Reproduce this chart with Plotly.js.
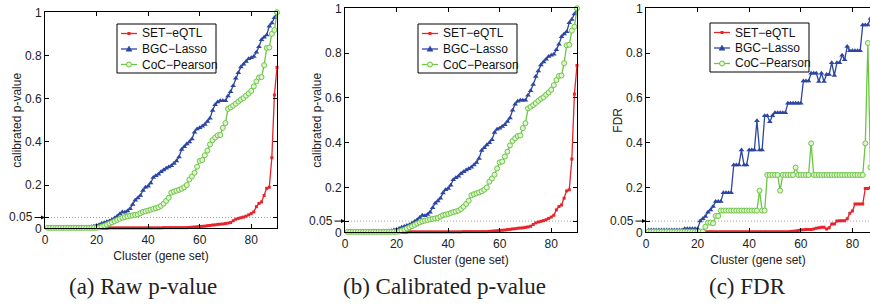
<!DOCTYPE html>
<html>
<head>
<meta charset="utf-8">
<script src="https://cdn.plot.ly/plotly-3.0.1.min.js"></script>
<style>html,body{margin:0;padding:0;background:#fff;}#chart{width:870px;height:305px;}</style>
</head>
<body>
<div id="chart"></div>
<script>
// ---------- data ----------
const seriesNames = ['SET\u2212eQTL', 'BGC\u2212Lasso', 'CoC\u2212Pearson'];
const panelCaptions = ['(a) Raw p-value', '(b) Calibrated p-value', '(c) FDR'];
const yTitles = ['calibrated p-value', 'calibrated p-value', 'FDR'];
const xTitle = 'Cluster (gene set)';
const xTickVals = [0, 20, 40, 60, 80];
const yTickVals = [0, 0.05, 0.2, 0.4, 0.6, 0.8, 1];
const yTickText = ['0', '', '0.2', '0.4', '0.6', '0.8', '1'];
const thresholdLabel = '0.05';
const threshold = 0.05;

// cluster index 1..90
const cluster = Array.from({length: 90}, (_, i) => i + 1);

// (a) raw p-value
const rawSET = [
 0,0,0,0,0,0,0,0,0,0, 0,0,0,0,0,0,0,0,0,0, 0,0,0,0,0.002,0.002,0.002,0.002,0.002,0.002,
 0.002,0.002,0.002,0.002,0.002,0.002,0.002,0.002,0.002,0.002, 0.002,0.002,0.002,0.002,0.002,0.003,0.003,0.003,0.003,0.003,
 0.003,0.003,0.003,0.003,0.003,0.004,0.005,0.006,0.007,0.008, 0.009,0.010,0.012,0.013,0.015,0.016,0.018,0.019,0.020,0.022,
 0.024,0.027,0.035,0.042,0.046,0.049,0.052,0.056,0.062,0.068, 0.076,0.100,0.115,0.122,0.152,0.185,0.190,0.327,0.617,0.745];
const rawBGC = [
 0.004,0.004,0.004,0.004,0.004,0.004,0.004,0.004,0.004,0.004, 0.005,0.005,0.005,0.005,0.005,0.005,0.005,0.007,0.010,0.013,
 0.017,0.022,0.026,0.030,0.034,0.040,0.048,0.056,0.066,0.076, 0.074,0.080,0.090,0.110,0.130,0.140,0.152,0.175,0.190,0.195,
 0.210,0.235,0.243,0.250,0.262,0.270,0.278,0.284,0.290,0.300, 0.312,0.330,0.365,0.378,0.390,0.400,0.413,0.445,0.460,0.465,
 0.472,0.480,0.495,0.510,0.545,0.572,0.585,0.590,0.590,0.590, 0.612,0.632,0.660,0.695,0.720,0.747,0.760,0.772,0.785,0.790,
 0.795,0.815,0.840,0.873,0.885,0.895,0.935,0.950,0.975,1.000];
const rawCoC = [
 0.002,0.002,0.002,0.002,0.002,0.002,0.002,0.002,0.002,0.002, 0.002,0.002,0.002,0.002,0.002,0.002,0.002,0.002,0.002,0.002,
 0.004,0.008,0.012,0.017,0.022,0.027,0.033,0.039,0.044,0.049, 0.052,0.055,0.058,0.060,0.062,0.064,0.070,0.076,0.079,0.082,
 0.086,0.090,0.093,0.097,0.104,0.114,0.127,0.141,0.165,0.170, 0.174,0.178,0.183,0.190,0.200,0.226,0.240,0.257,0.285,0.312,
 0.316,0.338,0.360,0.388,0.408,0.420,0.430,0.432,0.465,0.487, 0.553,0.560,0.568,0.577,0.587,0.596,0.603,0.614,0.624,0.636,
 0.657,0.680,0.698,0.700,0.755,0.835,0.837,0.900,0.918,1.000];

// (b) calibrated p-value
const calSET = rawSET.slice();
const calBGC = rawBGC.slice();
const calCoC = rawCoC.slice();

// (c) FDR
const fdrSET = [
 0,0,0,0,0,0,0,0,0,0, 0,0,0,0,0,0,0,0,0,0, 0,0,0.002,0.002,0.002,0.002,0.002,0.002,0.002,0.002,
 0.002,0.002,0.002,0.002,0.002,0.002,0.002,0.002,0.002,0.002, 0.002,0.002,0.002,0.002,0.002,0.002,0.002,0.002,0.002,0.002,
 0.002,0.002,0.002,0.002,0.002,0.004,0.005,0.006,0.008,0.010, 0.011,0.012,0.012,0.013,0.015,0.018,0.020,0.022,0.022,0.015,
 0.020,0.037,0.037,0.050,0.052,0.052,0.052,0.060,0.085,0.095, 0.126,0.126,0.126,0.126,0.196,0.196,0.200,0.200,0.200,0.200];
const fdrBGC = [
 0.010,0.010,0.010,0.010,0.010,0.010,0.010,0.010,0.010,0.010, 0.010,0.010,0.010,0.010,0.016,0.016,0.016,0.016,0.016,0.016,
 0.050,0.060,0.070,0.090,0.100,0.115,0.137,0.137,0.137,0.177, 0.177,0.177,0.177,0.300,0.300,0.300,0.367,0.300,0.300,0.367,
 0.367,0.367,0.498,0.367,0.367,0.520,0.520,0.494,0.520,0.534, 0.534,0.534,0.534,0.534,0.576,0.576,0.576,0.576,0.576,0.576,
 0.675,0.675,0.675,0.710,0.710,0.710,0.673,0.710,0.673,0.705, 0.705,0.757,0.700,0.757,0.757,0.790,0.770,0.830,0.810,0.810,
 0.810,0.810,0.810,0.925,0.925,0.925,0.955,0.965,0.980,1.000];
const fdrCoC = [
 0.003,0.003,0.003,0.003,0.003,0.003,0.003,0.003,0.003,0.003, 0.003,0.003,0.003,0.003,0.003,0.003,0.003,0.003,0.003,0.003,
 0.003,0.003,0.025,0.043,0.043,0.040,0.073,0.073,0.097,0.097, 0.097,0.097,0.097,0.097,0.097,0.097,0.097,0.097,0.097,0.097,
 0.097,0.097,0.097,0.186,0.097,0.097,0.256,0.256,0.256,0.256, 0.256,0.186,0.256,0.256,0.256,0.256,0.256,0.289,0.256,0.256,
 0.256,0.256,0.256,0.397,0.256,0.256,0.256,0.256,0.256,0.256, 0.256,0.256,0.256,0.256,0.256,0.256,0.256,0.256,0.256,0.256,
 0.256,0.256,0.256,0.256,0.397,0.845,0.290,0.300,0.300,0.300];

// ---------- styles ----------
const RED = '#e8232b', BLUE = '#2c46a3', GREEN = '#6cc644', GREEN_FILL = 'rgb(225,244,210)';
const FONT = 'Liberation Sans, Arial, Helvetica, sans-serif';
const SERIF = 'Liberation Serif, Times New Roman, serif';

function mkTraces(set, bgc, coc, xa, ya, clip) {
  return [
    {x: cluster, y: set, xaxis: xa, yaxis: ya, name: seriesNames[0], mode: 'lines+markers',
     line: {color: RED, width: 1.3}, marker: {symbol: 'square', size: 3, color: RED}, cliponaxis: clip},
    {x: cluster, y: bgc, xaxis: xa, yaxis: ya, name: seriesNames[1], mode: 'lines+markers',
     line: {color: BLUE, width: 1.3}, marker: {symbol: 'triangle-up', size: 5, color: BLUE}, cliponaxis: clip},
    {x: cluster, y: coc, xaxis: xa, yaxis: ya, name: seriesNames[2], mode: 'lines+markers',
     line: {color: GREEN, width: 1.3},
     marker: {symbol: 'circle', size: 5, color: GREEN_FILL, line: {color: GREEN, width: 1}}, cliponaxis: clip}
  ];
}

const traces = [].concat(
  mkTraces(rawSET, rawBGC, rawCoC, 'x', 'y', false),
  mkTraces(calSET, calBGC, calCoC, 'x2', 'y2', false),
  mkTraces(fdrSET, fdrBGC, fdrCoC, 'x3', 'y3', true)   // panel c is cut at the page edge
);

const W = 870, H = 305;
const px = v => v / W, py = v => 1 - v / H;

function xax(l, r, anchor, xrange) {
  return {domain: [px(l), px(r)], anchor: anchor, range: xrange, tickvals: xTickVals,
    ticks: 'inside', ticklen: 4, tickcolor: '#000', showline: true, linecolor: '#000', linewidth: 1,
    mirror: 'ticks', showgrid: false, zeroline: false,
    tickfont: {family: FONT, size: 12, color: '#222'},
    title: {text: xTitle, font: {family: FONT, size: 12, color: '#222'}, standoff: 5}};
}
function yax(t, b, anchor, title, mirror) {
  return {domain: [py(b), py(t)], anchor: anchor, range: [0, 1], tickvals: yTickVals, ticktext: yTickText,
    ticks: 'inside', ticklen: 4, tickcolor: '#000', showline: true, linecolor: '#000', linewidth: 1,
    mirror: mirror, showgrid: false, zeroline: false,
    tickfont: {family: FONT, size: 12, color: '#222'},
    title: {text: title, font: {family: FONT, size: 12, color: '#222'}, standoff: 0}};
}

// ---------- MATLAB-style legend boxes (paper coordinates) ----------
const legendBoxes = [[117, 24], [418, 24], [710, 23]];   // left, top in px
const legendStyles = [
  {color: RED, kind: 'square'}, {color: BLUE, kind: 'triangle'}, {color: GREEN, kind: 'circle'}];
const shapes = [], annotations = [];
legendBoxes.forEach(([L, T]) => {
  shapes.push({type: 'rect', xref: 'paper', yref: 'paper', x0: px(L), x1: px(L + 99), y0: py(T + 49), y1: py(T),
    fillcolor: '#fff', line: {color: '#000', width: 1}, layer: 'above'});
  legendStyles.forEach((st, i) => {
    const cy = T + 9.5 + i * 15.5, cx = L + 12;
    shapes.push({type: 'line', xref: 'paper', yref: 'paper', x0: px(L + 4), x1: px(L + 20), y0: py(cy), y1: py(cy),
      line: {color: st.color, width: 1.3}, layer: 'above'});
    if (st.kind === 'square') {
      shapes.push({type: 'rect', xref: 'paper', yref: 'paper', x0: px(cx - 1.5), x1: px(cx + 1.5), y0: py(cy + 1.5), y1: py(cy - 1.5),
        fillcolor: st.color, line: {width: 0}, layer: 'above'});
    } else if (st.kind === 'triangle') {
      shapes.push({type: 'path', xref: 'paper', yref: 'paper',
        path: `M ${px(cx - 3)} ${py(cy + 2.2)} L ${px(cx + 3)} ${py(cy + 2.2)} L ${px(cx)} ${py(cy - 3)} Z`,
        fillcolor: st.color, line: {color: st.color, width: 0.5}, layer: 'above'});
    } else {
      shapes.push({type: 'circle', xref: 'paper', yref: 'paper', x0: px(cx - 2.5), x1: px(cx + 2.5), y0: py(cy + 2.5), y1: py(cy - 2.5),
        fillcolor: GREEN_FILL, line: {color: st.color, width: 1}, layer: 'above'});
    }
    annotations.push({xref: 'paper', yref: 'paper', x: px(L + 23), y: py(cy), xanchor: 'left', yanchor: 'middle',
      text: seriesNames[i], showarrow: false, font: {family: FONT, size: 12, color: '#111'}});
  });
});

// threshold dotted lines + "0.05" arrow labels
[['x', 'y'], ['x2', 'y2'], ['x3', 'y3']].forEach(([xa, ya]) => {
  shapes.push({type: 'line', xref: xa, yref: ya, x0: 0, x1: 90, y0: threshold, y1: threshold,
    line: {color: '#a0a0a0', width: 1, dash: '1px,2px'}, layer: 'below'});
  annotations.push({xref: xa, yref: ya, x: 0, y: threshold, text: thresholdLabel, showarrow: true,
    ax: -24, ay: 0, arrowhead: 2, arrowsize: 0.8, arrowwidth: 1, arrowcolor: '#000', standoff: 0,
    font: {family: FONT, size: 12, color: '#222'}});
});

// panel captions
[143, 444, 747].forEach((cx, i) => {
  annotations.push({xref: 'paper', yref: 'paper', x: px(cx), y: py(286), xanchor: 'center', yanchor: 'middle',
    text: panelCaptions[i], showarrow: false, font: {family: SERIF, size: 23, color: '#222'}});
});

const layout = {
  width: W, height: H, margin: {l: 0, r: 0, t: 0, b: 0}, paper_bgcolor: '#fff', plot_bgcolor: '#fff',
  showlegend: false,
  xaxis: xax(45, 277, 'y', [0, 90]),
  yaxis: yax(12.3, 228.3, 'x', yTitles[0], 'ticks'),
  xaxis2: xax(345, 577, 'y2', [0, 90]),
  yaxis2: yax(8.3, 232.3, 'x2', yTitles[1], 'ticks'),
  xaxis3: xax(646, 870, 'y3', [0, 224 / 2.58]),
  yaxis3: yax(8.3, 232.3, 'x3', yTitles[2], false),
  shapes: shapes,
  annotations: annotations
};

Plotly.newPlot('chart', traces, layout, {displayModeBar: false, staticPlot: true});
</script>
</body>
</html>
